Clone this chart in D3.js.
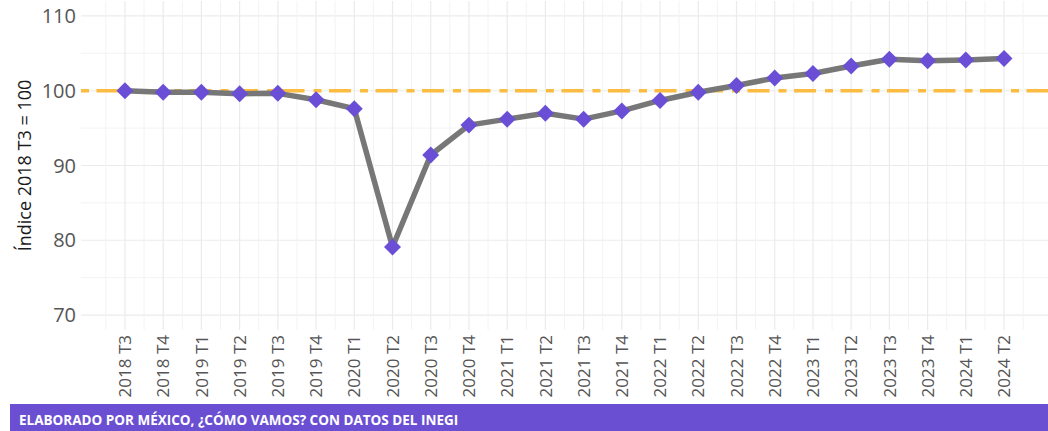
<!DOCTYPE html>
<html>
<head>
<meta charset="utf-8">
<script src="https://cdn.jsdelivr.net/npm/d3@7"></script>
<style>
body { margin: 0; background: #fff; }
svg { display: block; font-family: "Open Sans", "Noto Sans", sans-serif; }
</style>
</head>
<body>
<div class="main"></div>
<script>
// quarters and index values (2018 T3 = 100)
var quarters = ["2018 T3","2018 T4","2019 T1","2019 T2","2019 T3","2019 T4","2020 T1","2020 T2",
                "2020 T3","2020 T4","2021 T1","2021 T2","2021 T3","2021 T4","2022 T1","2022 T2",
                "2022 T3","2022 T4","2023 T1","2023 T2","2023 T3","2023 T4","2024 T1","2024 T2"];
var indice = [100.0, 99.8, 99.8, 99.6, 99.65, 98.8, 97.6, 79.1,
              91.4, 95.4, 96.2, 97.0, 96.2, 97.3, 98.7, 99.8,
              100.7, 101.7, 102.3, 103.3, 104.2, 104.0, 104.1, 104.3];
var yTicks = [70, 80, 90, 100, 110];
var yMinor = [75, 85, 95, 105];
var referencia = 100;
var fuente = "ELABORADO POR MÉXICO, ¿CÓMO VAMOS? CON DATOS DEL INEGI";

const W = 1048, H = 431;
const panel = {left: 81, right: 1048, top: 1, bottom: 330};

var svg = d3.select(".main").append("svg")
    .attr("width", W)
    .attr("height", H);

var x = d3.scaleLinear()
    .domain([-1.15, quarters.length - 1 + 1.15])
    .range([panel.left, panel.right]);

var y = d3.scaleLinear()
    .domain([68, 112])
    .range([panel.bottom, panel.top]);

//grid
var grid = svg.append("g");
grid.selectAll("hminor")
    .data(yMinor)
    .enter().append("line")
    .attr("x1", panel.left).attr("x2", panel.right)
    .attr("y1", d => y(d)).attr("y2", d => y(d))
    .attr("stroke", "#f3f3f3").attr("stroke-width", 1);
grid.selectAll("hmajor")
    .data(yTicks)
    .enter().append("line")
    .attr("x1", panel.left).attr("x2", panel.right)
    .attr("y1", d => y(d)).attr("y2", d => y(d))
    .attr("stroke", "#ebebeb").attr("stroke-width", 1.2);
var vMinor = d3.range(-0.5, quarters.length, 1);
grid.selectAll("vminor")
    .data(vMinor)
    .enter().append("line")
    .attr("y1", panel.top).attr("y2", panel.bottom)
    .attr("x1", d => x(d)).attr("x2", d => x(d))
    .attr("stroke", "#f3f3f3").attr("stroke-width", 1);
grid.selectAll("vmajor")
    .data(quarters)
    .enter().append("line")
    .attr("y1", panel.top).attr("y2", panel.bottom)
    .attr("x1", (d, i) => x(i)).attr("x2", (d, i) => x(i))
    .attr("stroke", "#ebebeb").attr("stroke-width", 1.2);

//reference line at 100
svg.append("line")
    .attr("x1", panel.left).attr("x2", panel.right)
    .attr("y1", y(referencia)).attr("y2", y(referencia))
    .attr("stroke", "#fcbc41")
    .attr("stroke-width", 3.5)
    .attr("stroke-dasharray", "8,7.5,22,9");

//series line
var line = d3.line()
    .x((d, i) => x(i))
    .y(d => y(d));

svg.append("path")
    .datum(indice)
    .attr("d", line)
    .attr("fill", "none")
    .attr("stroke", "#777777")
    .attr("stroke-width", 5.5)
    .attr("stroke-linejoin", "round");

//diamonds
svg.selectAll("diamond")
    .data(indice)
    .enter().append("rect")
    .attr("x", -6).attr("y", -6)
    .attr("width", 12).attr("height", 12)
    .attr("transform", (d, i) => `translate(${x(i)},${y(d)}) rotate(45)`)
    .style("fill", "#6a4fd6");

//y axis labels
svg.selectAll("ylab")
    .data(yTicks)
    .enter().append("text")
    .attr("x", 76)
    .attr("y", d => y(d))
    .attr("dy", "0.36em")
    .attr("text-anchor", "end")
    .text(d => d)
    .style("font-size", "20px")
    .style("fill", "#555");

//x axis labels
svg.selectAll("xlab")
    .data(quarters)
    .enter().append("text")
    .attr("transform", (d, i) => `translate(${x(i)},335) rotate(-90)`)
    .attr("dy", "0.36em")
    .attr("text-anchor", "end")
    .text(d => d)
    .style("font-size", "17px")
    .style("fill", "#555");

//y title
svg.append("text")
    .attr("transform", `translate(25,${(panel.top + panel.bottom) / 2}) rotate(-90)`)
    .attr("dy", "0.36em")
    .attr("text-anchor", "middle")
    .text("Índice 2018 T3 = 100")
    .style("font-size", "18px")
    .style("fill", "#1a1a1a");

//footer
svg.append("rect")
    .attr("x", 10).attr("y", 404)
    .attr("width", W - 10).attr("height", H - 404)
    .style("fill", "#6b4fd3");

svg.append("text")
    .attr("x", 19).attr("y", 425)
    .text(fuente)
    .style("font-size", "13.5px")
    .style("font-weight", "700")
    .style("fill", "#fff");
</script>
</body>
</html>
